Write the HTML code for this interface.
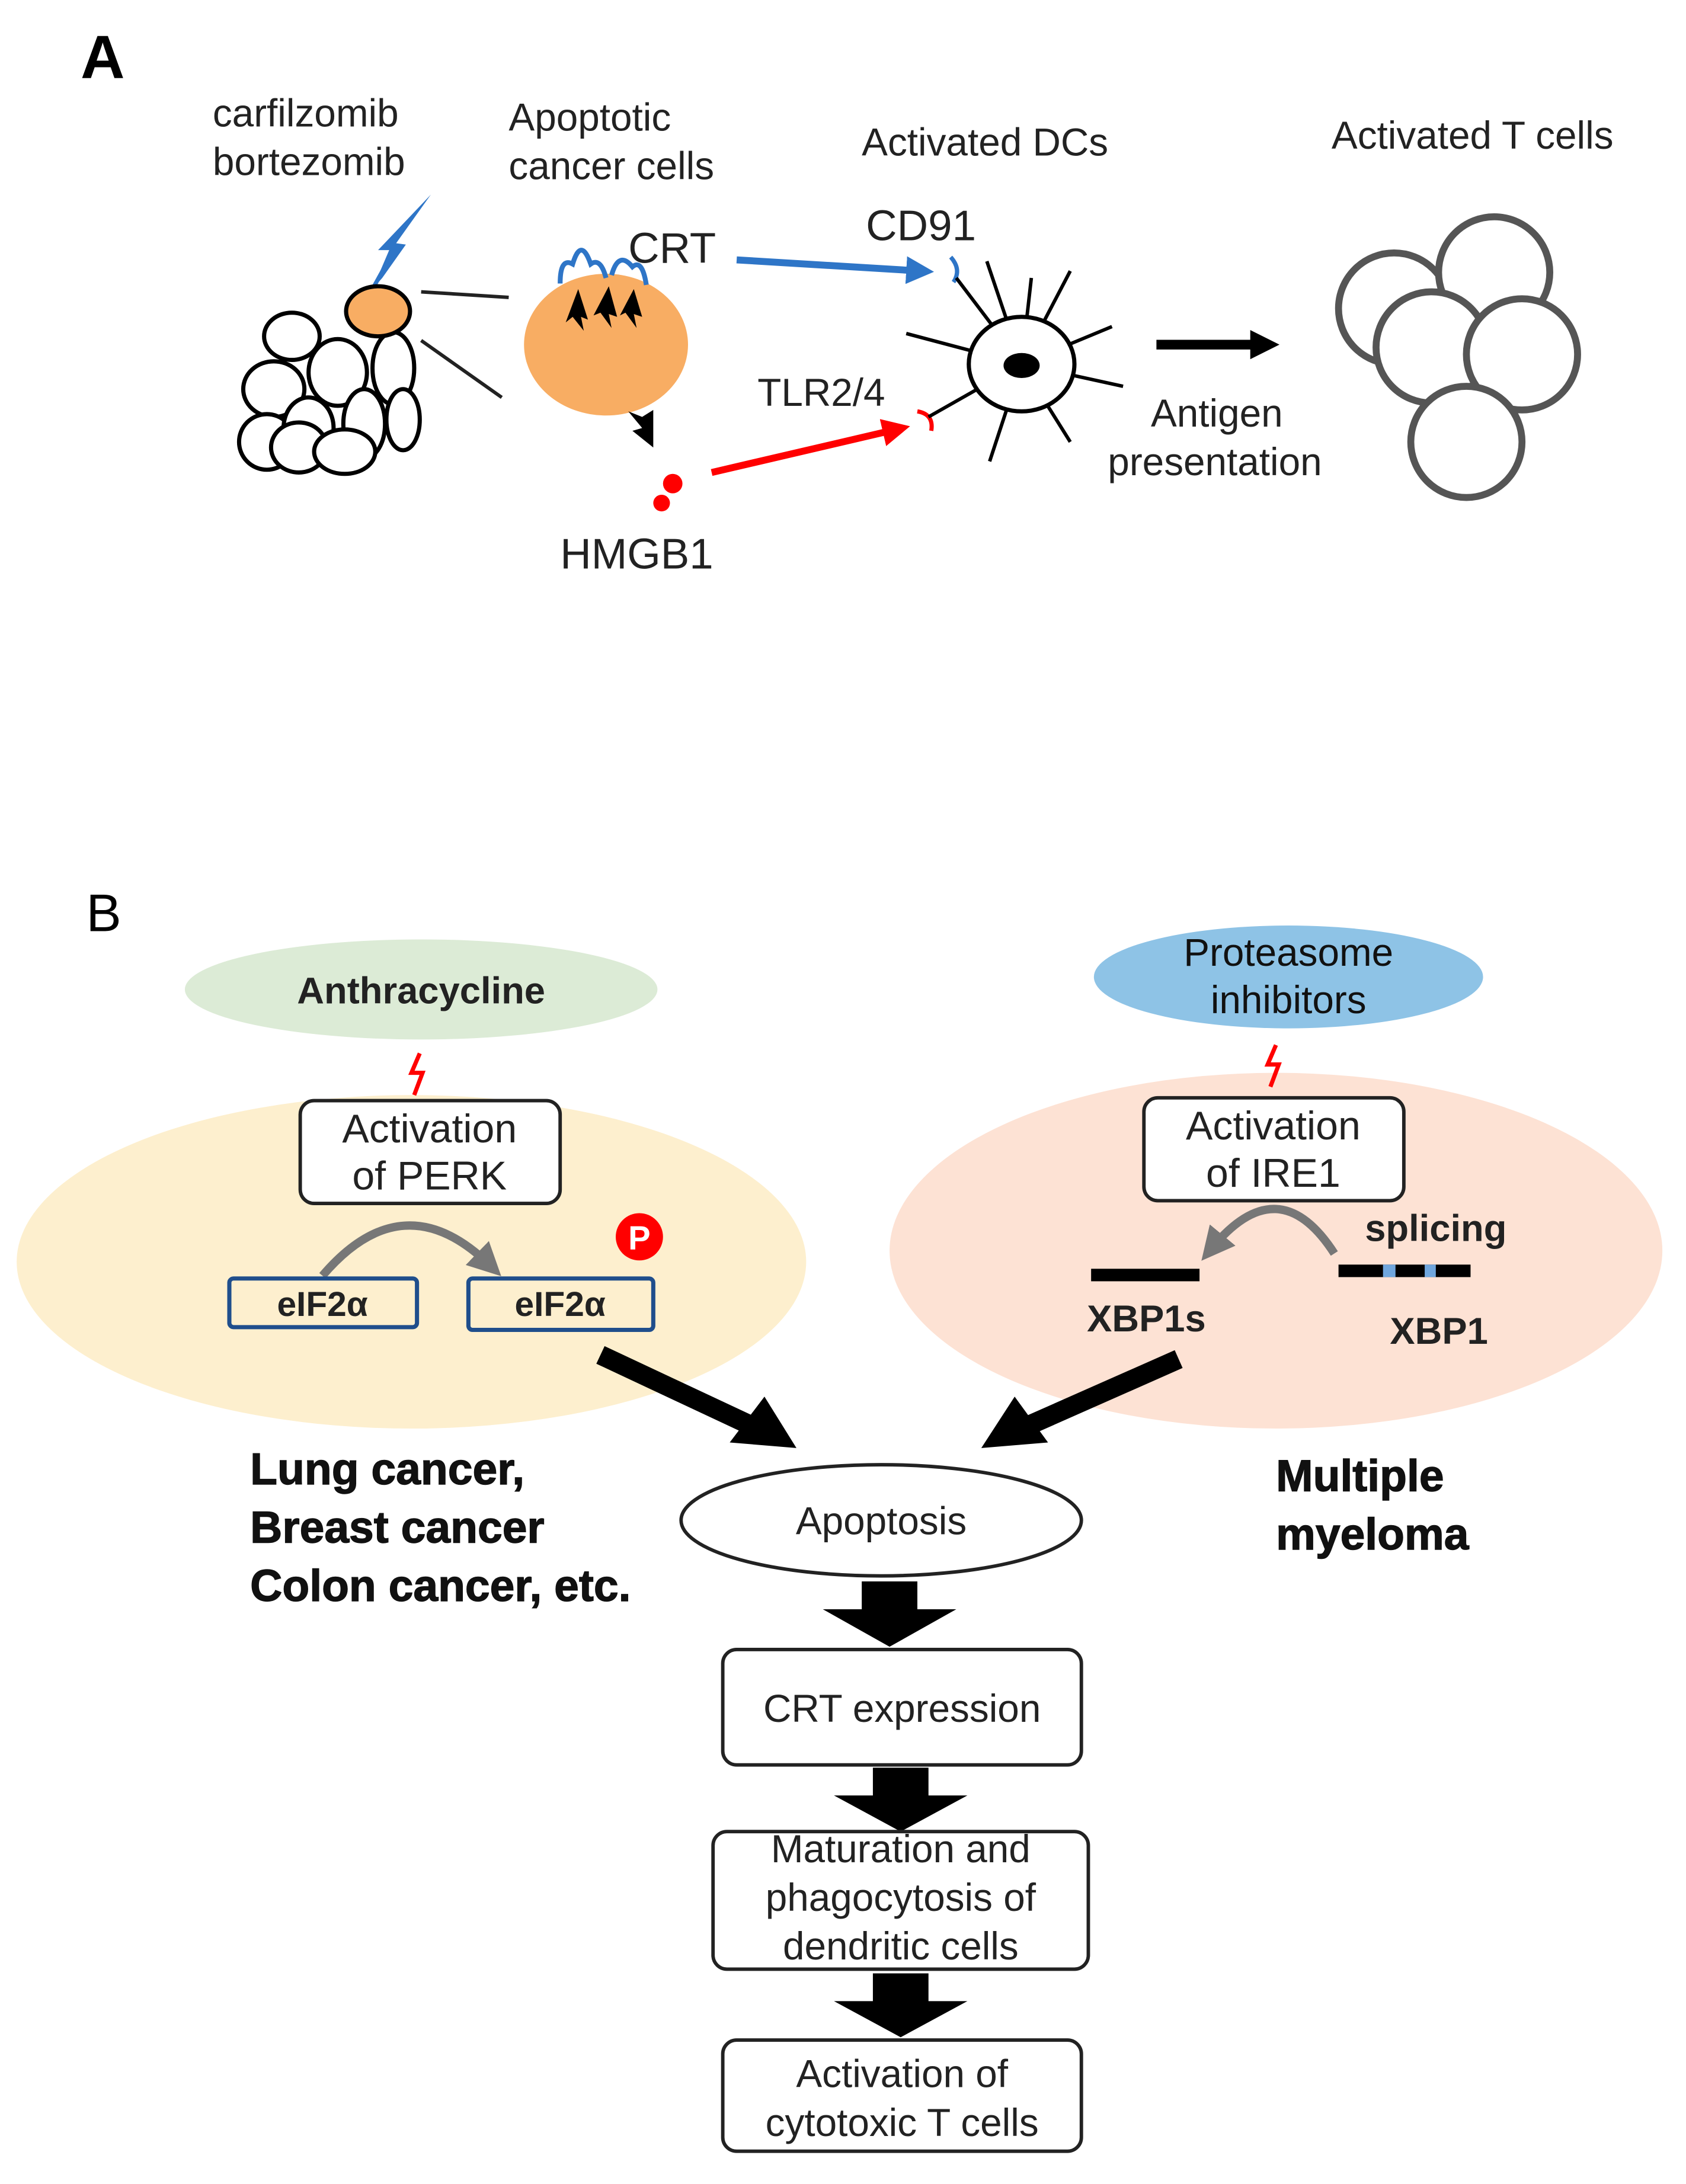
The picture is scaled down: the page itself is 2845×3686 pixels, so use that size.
<!DOCTYPE html>
<html><head><meta charset="utf-8"><style>
html,body{margin:0;padding:0;background:#fff;}
svg{display:block;}
text{font-family:"Liberation Sans",sans-serif;}
</style></head><body>
<svg width="2845" height="3686" viewBox="0 0 1213 1571.6" preserveAspectRatio="none" xmlns="http://www.w3.org/2000/svg">
<defs>
<marker id="ab" markerWidth="4" markerHeight="4" refX="2" refY="2" orient="auto"><path d="M0,0 L4,2 L0,4 z" fill="#2e75c7"/></marker>
<marker id="ar" markerWidth="4" markerHeight="4" refX="2" refY="2" orient="auto"><path d="M0,0 L4,2 L0,4 z" fill="#f00"/></marker>
<marker id="ak" markerWidth="3" markerHeight="3" refX="1.5" refY="1.5" orient="auto"><path d="M0,0 L3,1.5 L0,3 z" fill="#000"/></marker>
<marker id="ag" markerWidth="4" markerHeight="4" refX="2" refY="2" orient="auto"><path d="M0,0 L4,2 L0,4 z" fill="#777"/></marker>
</defs>
<!-- Panel A -->
<text x="58" y="56" font-size="44" font-weight="bold">A</text>
<g font-size="28" fill="#222">
<text x="153" y="91">carfilzomib</text>
<text x="153" y="126">bortezomib</text>
<text x="366" y="94">Apoptotic</text>
<text x="366" y="129">cancer cells</text>
<text x="620" y="112">Activated DCs</text>
<text x="958" y="107">Activated T cells</text>
<text x="452" y="189" font-size="31">CRT</text>
<text x="623" y="173" font-size="31">CD91</text>
<text x="545" y="292">TLR2/4</text>
<text x="403" y="409" font-size="31">HMGB1</text>
<text x="828" y="307">Antigen</text>
<text x="797" y="342">presentation</text>
</g>
<!-- lightning -->
<path d="M310,140 L285,175 L292,176 L275,200 L268,208 L280,180 L272,180 Z" fill="#2e75c7"/>
<line x1="278" y1="190" x2="268" y2="208" stroke="#2e75c7" stroke-width="3"/>
<!-- cluster -->
<g fill="#fff" stroke="#000" stroke-width="3">
<ellipse cx="210" cy="242" rx="20" ry="17"/>
<ellipse cx="197" cy="280" rx="22" ry="20"/>
<ellipse cx="243" cy="268" rx="21" ry="24"/>
<ellipse cx="283" cy="265" rx="15" ry="26"/>
<ellipse cx="192" cy="318" rx="20" ry="20"/>
<ellipse cx="222" cy="308" rx="18" ry="22"/>
<ellipse cx="262" cy="305" rx="15" ry="25"/>
<ellipse cx="290" cy="302" rx="12" ry="22"/>
<ellipse cx="215" cy="322" rx="20" ry="18"/>
<ellipse cx="248" cy="325" rx="22" ry="16"/>
</g>
<ellipse cx="272" cy="224" rx="23" ry="18" fill="#f8ad63" stroke="#000" stroke-width="3"/>
<line x1="303" y1="210" x2="366" y2="214" stroke="#222" stroke-width="2.5"/>
<line x1="303" y1="245" x2="361" y2="286" stroke="#222" stroke-width="2.5"/>
<!-- big cell -->
<ellipse cx="436" cy="248" rx="59" ry="51" fill="#f8ad63"/>
<path d="M403,204 Q403,185 412,190 Q418,170 425,190 Q432,185 436,200 M440,198 Q445,180 455,192 Q462,186 465,205" fill="none" stroke="#2e75c7" stroke-width="3.5"/>
<path d="M412,228 L407,232 L416,208 L423,230 L418,228 L420,238 Z" fill="#000"/>
<path d="M432,225 L427,227 L438,206 L444,228 L438,226 L440,236 Z" fill="#000"/>
<path d="M450,225 L446,227 L456,208 L462,228 L456,226 L458,236 Z" fill="#000"/>
<path d="M452,296 L462,300 L470,295 L470,322 L455,310 L462,308 Z" fill="#000"/>
<circle cx="484" cy="348" r="7" fill="#f00"/>
<circle cx="476" cy="362" r="6" fill="#f00"/>
<!-- arrows to DC -->
<line x1="530" y1="187" x2="662" y2="195" stroke="#2e75c7" stroke-width="5" marker-end="url(#ab)"/>
<path d="M684,185 Q692,194 686,203" fill="none" stroke="#2e75c7" stroke-width="3"/>
<line x1="512" y1="340" x2="645" y2="309" stroke="#f00" stroke-width="5" marker-end="url(#ar)"/>
<path d="M660,296 Q672,298 670,310" fill="none" stroke="#f00" stroke-width="3"/>
<!-- DC -->
<g stroke="#000" stroke-width="2.5">
<line x1="735" y1="262" x2="688" y2="200"/>
<line x1="735" y1="262" x2="710" y2="188"/>
<line x1="735" y1="262" x2="742" y2="200"/>
<line x1="735" y1="262" x2="770" y2="195"/>
<line x1="735" y1="262" x2="800" y2="235"/>
<line x1="735" y1="262" x2="808" y2="278"/>
<line x1="735" y1="262" x2="770" y2="318"/>
<line x1="735" y1="262" x2="712" y2="332"/>
<line x1="735" y1="262" x2="668" y2="300"/>
<line x1="735" y1="262" x2="652" y2="240"/>
</g>
<ellipse cx="735" cy="262" rx="38" ry="34" fill="#fff" stroke="#000" stroke-width="3"/>
<ellipse cx="735" cy="263" rx="13" ry="9" fill="#000"/>
<line x1="832" y1="248" x2="910" y2="248" stroke="#000" stroke-width="7" marker-end="url(#ak)"/>
<!-- T cells -->
<g fill="#fff" stroke="#555" stroke-width="5">
<circle cx="1003" cy="222" r="40"/>
<circle cx="1075" cy="196" r="40"/>
<circle cx="1030" cy="250" r="40"/>
<circle cx="1095" cy="255" r="40"/>
<circle cx="1055" cy="318" r="40"/>
</g>
<!-- Panel B -->
<text x="62" y="670" font-size="38">B</text>
<ellipse cx="296" cy="908" rx="284" ry="120" fill="#fdefce"/>
<ellipse cx="918" cy="900" rx="278" ry="128" fill="#fde2d4"/>
<ellipse cx="303" cy="712" rx="170" ry="36" fill="#dcebd6"/>
<ellipse cx="927" cy="703" rx="140" ry="37" fill="#8ec3e6"/>
<text x="303" y="722" font-size="27" font-weight="bold" text-anchor="middle" fill="#222">Anthracycline</text>
<text x="927" y="695" font-size="28" text-anchor="middle" fill="#111">Proteasome</text>
<text x="927" y="729" font-size="28" text-anchor="middle" fill="#111">inhibitors</text>
<path d="M302,758 L296,772 L304,772 L298,788" fill="none" stroke="#f00" stroke-width="3"/>
<path d="M918,752 L912,766 L920,766 L914,782" fill="none" stroke="#f00" stroke-width="3"/>
<g fill="#fff" stroke="#222" stroke-width="2.5">
<rect x="216" y="792" width="187" height="74" rx="10"/>
<rect x="823" y="790" width="187" height="74" rx="10"/>
</g>
<g font-size="29" text-anchor="middle" fill="#222">
<text x="309" y="822">Activation</text>
<text x="309" y="856">of PERK</text>
<text x="916" y="820">Activation</text>
<text x="916" y="854">of IRE1</text>
</g>
<path d="M232,918 Q290,850 352,910" fill="none" stroke="#777" stroke-width="6" marker-end="url(#ag)"/>
<rect x="165" y="920" width="135" height="35" rx="3" fill="#fdefce" stroke="#1f4e8c" stroke-width="3"/>
<rect x="337" y="920" width="133" height="37" rx="3" fill="#fdefce" stroke="#1f4e8c" stroke-width="3"/>
<text x="232" y="947" font-size="25" font-weight="bold" text-anchor="middle" fill="#222">eIF2α</text>
<text x="403" y="947" font-size="25" font-weight="bold" text-anchor="middle" fill="#222">eIF2α</text>
<circle cx="460" cy="890" r="17" fill="#f00"/>
<text x="460" y="899" font-size="24" font-weight="bold" text-anchor="middle" fill="#fff">P</text>
<path d="M960,902 Q920,840 872,898" fill="none" stroke="#777" stroke-width="6" marker-end="url(#ag)"/>
<rect x="785" y="913" width="78" height="9" fill="#000"/>
<rect x="963" y="910" width="95" height="9" fill="#000"/>
<rect x="995" y="910" width="9" height="9" fill="#6fa6dd"/>
<rect x="1025" y="910" width="8" height="9" fill="#6fa6dd"/>
<g font-size="27" font-weight="bold" fill="#222">
<text x="982" y="893">splicing</text>
<text x="782" y="958">XBP1s</text>
<text x="1000" y="967">XBP1</text>
</g>
<line x1="432" y1="975" x2="545" y2="1028" stroke="#000" stroke-width="14"/>
<path d="M573,1042 L525,1038 L550,1005 Z" fill="#000"/>
<line x1="848" y1="978" x2="735" y2="1028" stroke="#000" stroke-width="14"/>
<path d="M706,1042 L730,1005 L754,1038 Z" fill="#000"/>
<g font-size="32" font-weight="bold" fill="#111" stroke="#111" stroke-width="0.6">
<text x="180" y="1068">Lung cancer,</text>
<text x="180" y="1110">Breast cancer</text>
<text x="180" y="1152">Colon cancer, etc.</text>
<text x="918" y="1073">Multiple</text>
<text x="918" y="1115">myeloma</text>
</g>
<ellipse cx="634" cy="1094" rx="144" ry="40" fill="#fff" stroke="#222" stroke-width="2.5"/>
<text x="634" y="1104" font-size="28" text-anchor="middle" fill="#222">Apoptosis</text>
<g fill="#000">
<path d="M620,1138 L660,1138 L660,1158 L688,1158 L640,1185 L592,1158 L620,1158 Z"/>
<path d="M628,1272 L668,1272 L668,1292 L696,1292 L648,1318 L600,1292 L628,1292 Z"/>
<path d="M628,1420 L668,1420 L668,1440 L696,1440 L648,1466 L600,1440 L628,1440 Z"/>
</g>
<g fill="#fff" stroke="#222" stroke-width="2.5">
<rect x="520" y="1187" width="258" height="83" rx="10"/>
<rect x="513" y="1318" width="270" height="99" rx="10"/>
<rect x="520" y="1468" width="258" height="80" rx="10"/>
</g>
<g font-size="28" text-anchor="middle" fill="#222">
<text x="649" y="1239">CRT expression</text>
<text x="648" y="1340">Maturation and</text>
<text x="648" y="1375">phagocytosis of</text>
<text x="648" y="1410">dendritic cells</text>
<text x="649" y="1502">Activation of</text>
<text x="649" y="1537">cytotoxic T cells</text>
</g>
</svg>
</body></html>
